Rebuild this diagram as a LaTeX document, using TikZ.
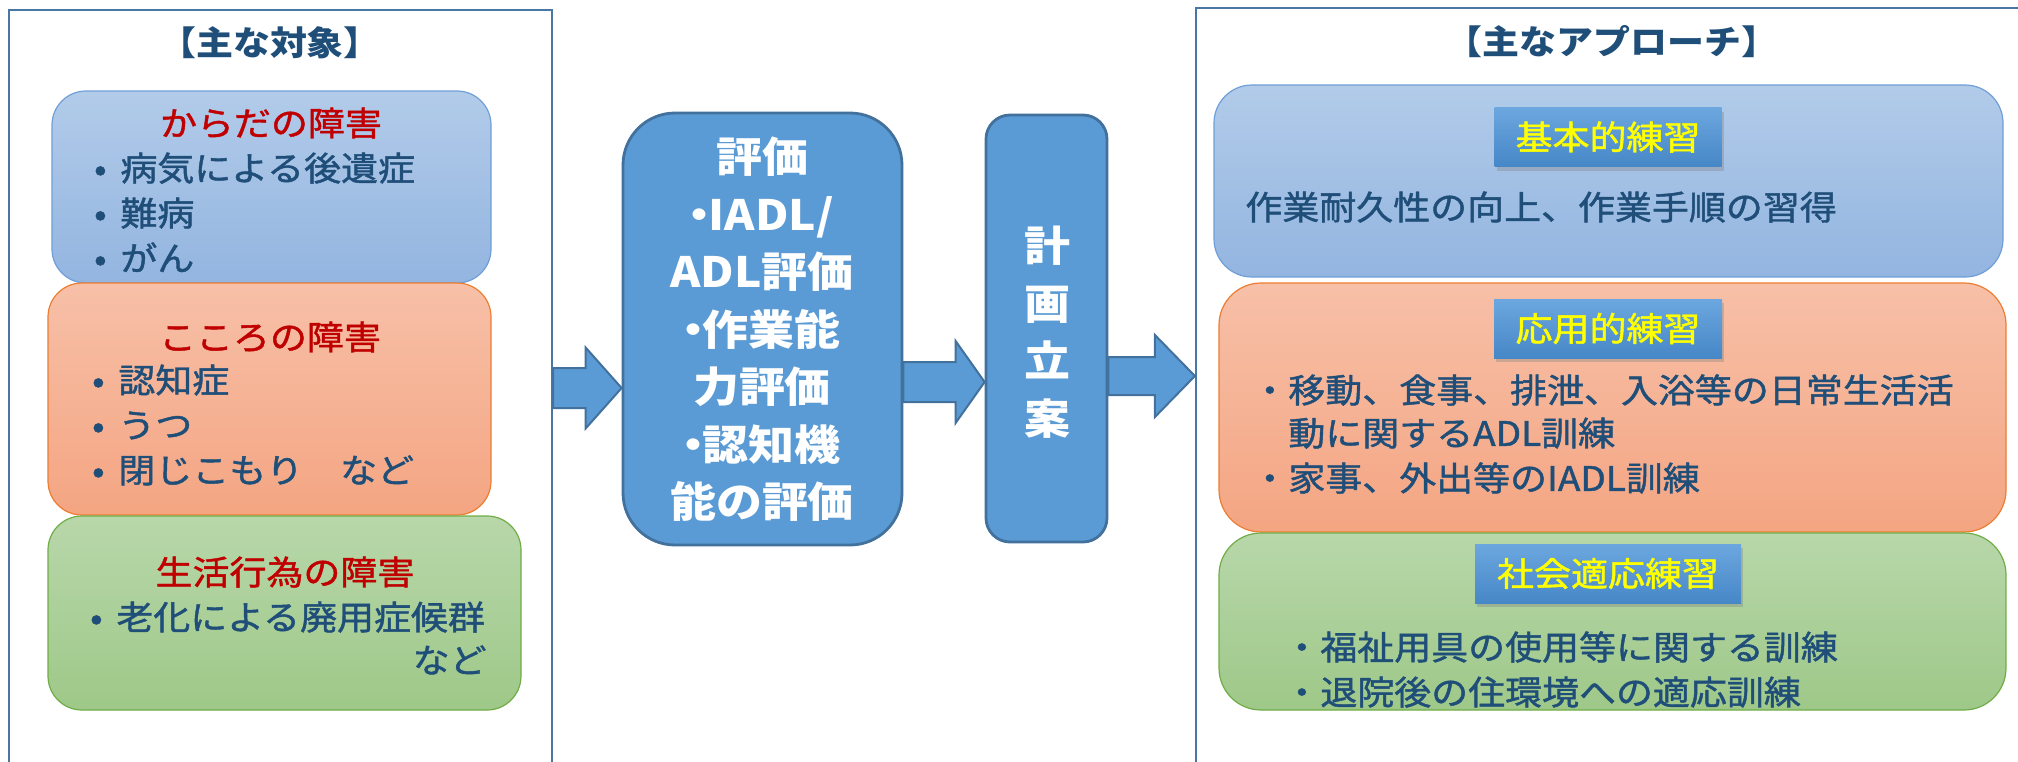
\documentclass[tikz,border=0pt]{standalone}
\usepackage{fontspec}
\setmainfont[FakeStretch=1.1]{Noto Sans CJK JP}
\newfontfamily\medjp[FakeStretch=1.1,FakeBold=1.3]{Noto Sans CJK JP}
\usetikzlibrary{fit,calc,shadows}
\definecolor{framec}{HTML}{4A76A6}
\definecolor{navy}{HTML}{1F4E79}
\definecolor{redt}{HTML}{C00000}
\definecolor{bTop}{HTML}{B2CBE9}
\definecolor{bBot}{HTML}{93B5E0}
\definecolor{bLine}{HTML}{6F9FD8}
\definecolor{oTop}{HTML}{F7C0A8}
\definecolor{oBot}{HTML}{F4A582}
\definecolor{oLine}{HTML}{ED7D31}
\definecolor{gTop}{HTML}{B8D7AA}
\definecolor{gBot}{HTML}{9EC888}
\definecolor{gLine}{HTML}{70AD47}
\definecolor{midFill}{HTML}{5B9BD5}
\definecolor{midLine}{HTML}{41719C}
\definecolor{lTop}{HTML}{6CA7DF}
\definecolor{lBot}{HTML}{4687C7}
\definecolor{yel}{HTML}{FFFF00}
\newcommand\myblockarrow[5]{%
  \draw[blockarrow] ($(#1)+(0,-#3)$) -- ($(#2)+(-#5,-#3)$) -- ($(#2)+(-#5,-#4)$) -- (#2)
    -- ($(#2)+(-#5,#4)$) -- ($(#2)+(-#5,#3)$) -- ($(#1)+(0,#3)$) -- cycle;}
\newcommand\ndot{\makebox[0.45em]{・}}
\begin{document}
\begin{tikzpicture}[x=0.5pt,y=-0.5pt,
  frame/.style={draw=framec, line width=1.1pt, inner sep=0},
  softbox/.style={inner sep=0, rounded corners=17pt, line width=0.6pt},
  bluebox/.style={softbox, draw=bLine, top color=bTop, bottom color=bBot},
  orangebox/.style={softbox, draw=oLine, top color=oTop, bottom color=oBot},
  greenbox/.style={softbox, draw=gLine, top color=gTop, bottom color=gBot},
  body/.style={font=\fontsize{16.8}{20}\selectfont\medjp, text=navy, inner sep=0,
    text height=14.8pt, text depth=2pt, anchor=west},
  head/.style={body, text=redt, anchor=center},
  ptitle/.style={body, font=\fontsize{16.8}{20}\selectfont\bfseries, anchor=center},
  midbox/.style={draw=midLine, fill=midFill, line width=1.4pt, inner sep=0},
  midtext/.style={text=white, font=\fontsize{20.9}{28.75}\selectfont\bfseries,
    align=center, inner sep=0},
  labelbox/.style={top color=lTop, bottom color=lBot, inner sep=0,
    minimum height=29.5pt, text=yel, font=\fontsize{16.8}{20}\selectfont\medjp,
    drop shadow={shadow xshift=1.2pt, shadow yshift=-2pt, opacity=0.35}},
  blockarrow/.style={draw=midLine, fill=midFill, line width=1pt, line join=miter}
]
\useasboundingbox (0,0) rectangle (2018,761);
\fill[white] (0,0) rectangle (2018,761);

% frames
\node[frame, fit={(9,10) (552,800)}] (lf) {};
\node[frame, fit={(1196,8) (2060,800)}] (rf) {};
\node[ptitle] (lt) at (270,43) {【主な対象】};
\node[ptitle] (rt) at (1612,42) {【主なアプローチ】};

% left boxes
\node[bluebox, fit={(52,91) (491,283)}] (b1) {};
\node[orangebox, fit={(48,283) (491,515)}] (b2) {};
\node[greenbox, fit={(48,516) (521,710)}] (b3) {};

\node[head] (h1) at (271,123) {からだの障害};
\node[body] (i11) at (120,168) {\llap{\makebox[20pt]{•}}病気による後遺症};
\node[body] (i12) at (120,213) {\llap{\makebox[20pt]{•}}難病};
\node[body] (i13) at (120,258) {\llap{\makebox[20pt]{•}}がん};

\node[head] (h2) at (270,337) {こころの障害};
\node[body] (i21) at (118,380) {\llap{\makebox[20pt]{•}}認知症};
\node[body] (i22) at (118,425) {\llap{\makebox[20pt]{•}}うつ};
\node[body] (i23) at (118,470) {\llap{\makebox[20pt]{•}}閉じこもり　など};

\node[head] (h3) at (285,572) {生活行為の障害};
\node[body] (i31) at (116,617) {\llap{\makebox[20pt]{•}}老化による廃用症候群};
\node[body, anchor=east] (i32) at (487,660) {など};

% middle boxes
\node[midbox, rounded corners=26pt, fit={(623,113) (902,545)}] (eval) {};
\node[midtext] (evalt) at (762,329.5) {評価\\\ndot IADL/\\ADL評価\\\ndot 作業能\\力評価\\\ndot 認知機\\能の評価};
\node[midbox, rounded corners=12pt, fit={(986,115) (1107,542)}] (plan) {};
\node[midtext] (plant) at (1047,332) {計\\画\\立\\案};

% block arrows
\coordinate (a1s) at (lf.east |- 0,388);
\coordinate (a1e) at (eval.west |- 0,388);
\coordinate (a2s) at (eval.east |- 0,382);
\coordinate (a2e) at (plan.west |- 0,382);
\coordinate (a3s) at (plan.east |- 0,376);
\coordinate (a3e) at (rf.west |- 0,376);
\myblockarrow{a1s}{a1e}{20}{40.5}{36}
\myblockarrow{a2s}{a2e}{20}{41}{29}
\myblockarrow{a3s}{a3e}{19}{41}{40}

% right boxes
\node[bluebox, rounded corners=19pt, fit={(1214,85) (2003,277)}] (r1) {};
\node[orangebox, rounded corners=21pt, fit={(1219,283) (2006,532)}] (r2) {};
\node[greenbox, rounded corners=21pt, fit={(1219,533) (2006,710)}] (r3) {};

\node[labelbox, minimum width=113.5pt] (l1) at (1608,137) {基本的練習};
\node[body] (t1) at (1245,207) {作業耐久性の向上、作業手順の習得};

\node[labelbox, minimum width=114pt] (l2) at (1608,328.5) {応用的練習};
\node[body] (t21) at (1251,390) {・移動、食事、排泄、入浴等の日常生活活};
\node[body] (t22) at (1288,433) {動に関するADL訓練};
\node[body] (t23) at (1251,478) {・家事、外出等のIADL訓練};

\node[labelbox, minimum width=133pt] (l3) at (1608,573.5) {社会適応練習};
\node[body] (t31) at (1283,647) {・福祉用具の使用等に関する訓練};
\node[body] (t32) at (1283,692) {・退院後の住環境への適応訓練};
\end{tikzpicture}
\end{document}
